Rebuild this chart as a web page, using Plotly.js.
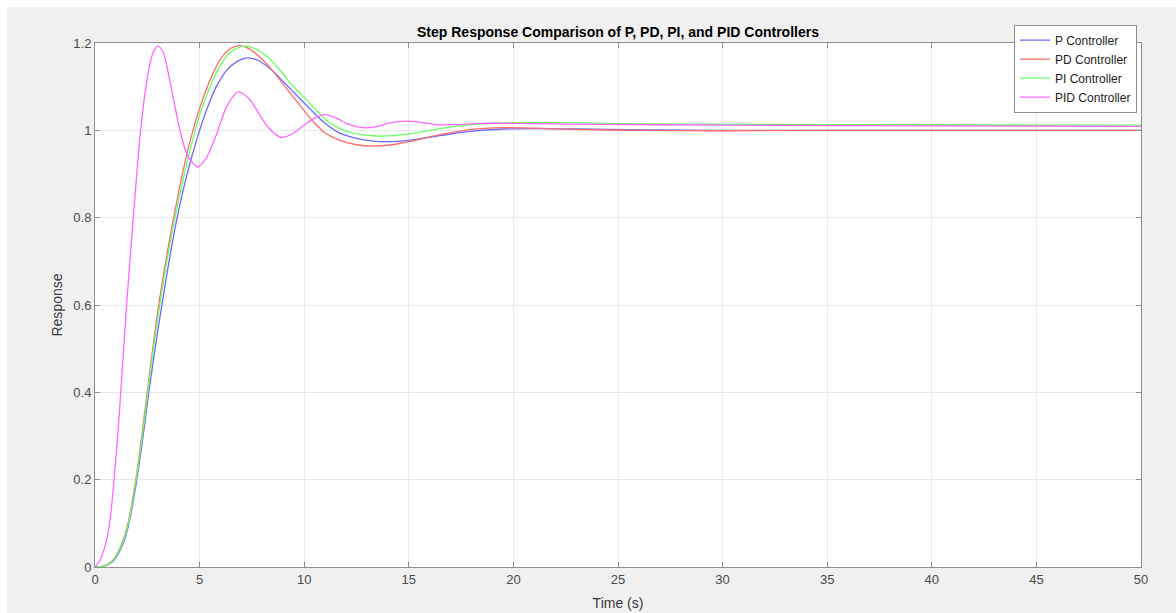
<!DOCTYPE html>
<html>
<head>
<meta charset="utf-8">
<script src="https://cdn.plot.ly/plotly-3.0.1.min.js"></script>
<style>
  html, body { margin: 0; padding: 0; background: #ffffff; }
  #chart { position: absolute; left: 7px; top: 7px; width: 1169px; height: 606px; }
</style>
</head>
<body>
<div id="chart"></div>
<script>
// ---- Data ----
const titleText = "Step Response Comparison of P, PD, PI, and PID Controllers";
const seriesNames = ["P Controller", "PD Controller", "PI Controller", "PID Controller"];

const tP = [0, 0.3, 0.6, 0.9, 1.35, 1.6, 1.95, 2.3, 2.6, 3.0, 3.4, 3.8, 4.2, 4.6, 5.0, 5.4, 5.8, 6.3, 6.8, 7.3, 7.8, 8.4, 9.0, 9.6, 10.3, 10.9, 11.6, 12.4, 13.2, 14.1, 15.0, 16.5, 18.0, 19.5, 21.0, 23.0, 26.0, 30.0, 35.0, 40.0, 45.0, 50.0];
const yP = [0, 0.001, 0.005, 0.015, 0.055, 0.095, 0.185, 0.3, 0.41, 0.54, 0.66, 0.77, 0.86, 0.935, 1.0, 1.055, 1.1, 1.138, 1.158, 1.166, 1.16, 1.14, 1.112, 1.082, 1.048, 1.02, 0.996, 0.983, 0.976, 0.974, 0.977, 0.988, 0.998, 1.003, 1.004, 1.003, 1.001, 1.0, 1.0, 1.0, 1.0, 1.0];

const tPD = [0, 0.3, 0.6, 0.9, 1.35, 1.6, 1.95, 2.3, 2.6, 3.0, 3.4, 3.8, 4.2, 4.6, 5.0, 5.5, 6.0, 6.5, 6.9, 7.4, 8.0, 8.6, 9.2, 9.8, 10.4, 11.0, 11.7, 12.5, 13.3, 14.2, 15.2, 16.5, 18.0, 19.5, 21.0, 23.0, 26.0, 30.0, 35.0, 40.0, 45.0, 50.0];
const yPD = [0, 0.001, 0.006, 0.018, 0.062, 0.105, 0.2, 0.325, 0.44, 0.585, 0.705, 0.81, 0.905, 0.985, 1.05, 1.115, 1.163, 1.188, 1.194, 1.186, 1.162, 1.13, 1.093, 1.057, 1.022, 0.994, 0.977, 0.967, 0.964, 0.967, 0.976, 0.99, 1.002, 1.006, 1.005, 1.002, 1.0, 0.999, 1.0, 1.0, 1.0, 1.0];

const tPI = [0, 0.3, 0.6, 0.9, 1.35, 1.6, 1.95, 2.3, 2.6, 3.0, 3.4, 3.8, 4.2, 4.6, 5.0, 5.5, 6.0, 6.5, 7.1, 7.6, 8.2, 8.8, 9.4, 10.0, 10.6, 11.2, 11.9, 12.7, 13.5, 14.3, 15.2, 16.5, 18.0, 19.5, 21.0, 23.0, 26.0, 30.0, 35.0, 40.0, 45.0, 50.0];
const yPI = [0, 0.001, 0.006, 0.017, 0.06, 0.1, 0.195, 0.315, 0.43, 0.57, 0.69, 0.795, 0.885, 0.965, 1.035, 1.1, 1.15, 1.18, 1.193, 1.188, 1.17, 1.14, 1.105, 1.075, 1.045, 1.018, 1.0, 0.99, 0.987, 0.988, 0.993, 1.004, 1.013, 1.017, 1.018, 1.017, 1.015, 1.014, 1.013, 1.013, 1.012, 1.012];

const tPID = [0, 0.24, 0.56, 0.75, 0.91, 1.1, 1.23, 1.51, 1.83, 2.18, 2.5, 2.75, 3.0, 3.25, 3.55, 3.8, 4.06, 4.4, 4.9, 5.3, 5.8, 6.3, 6.85, 7.35, 7.85, 8.35, 8.9, 9.4, 10.0, 10.5, 11.0, 11.6, 12.1, 12.8, 13.4, 14.1, 14.8, 15.5, 16.3, 17.2, 18.4, 20.0, 23.0, 30.0, 40.0, 50.0];
const yPID = [0, 0.016, 0.062, 0.12, 0.2, 0.31, 0.4, 0.6, 0.8, 1.0, 1.12, 1.175, 1.193, 1.18, 1.12, 1.06, 1.0, 0.945, 0.916, 0.935, 0.99, 1.055, 1.088, 1.073, 1.037, 1.003, 0.984, 0.991, 1.012, 1.028, 1.036, 1.027, 1.014, 1.006, 1.008, 1.017, 1.021, 1.019, 1.013, 1.013, 1.016, 1.016, 1.014, 1.012, 1.01, 1.009];

const xTicks = [0, 5, 10, 15, 20, 25, 30, 35, 40, 45, 50];
const yTicks = [0, 0.2, 0.4, 0.6, 0.8, 1, 1.2];

// ---- Styling ----
const colors = ["#6a6aff", "#ff6a6a", "#66ff66", "#ff66ff"];
const xs = [tP, tPD, tPI, tPID];
const ys = [yP, yPD, yPI, yPID];

const traces = seriesNames.map((n, i) => ({
  x: xs[i], y: ys[i], name: n, type: "scatter", mode: "lines",
  line: { color: colors[i], width: 1.3, shape: "spline", smoothing: 0.8 },
  hoverinfo: "skip"
}));

const FONT = "Liberation Sans, Arial, Helvetica, sans-serif";
const axisCommon = {
  showline: true, linecolor: "#8f8f8f", linewidth: 1, mirror: "ticks",
  ticks: "inside", ticklen: 5, tickcolor: "#8f8f8f", tickwidth: 1,
  showgrid: true, gridcolor: "#e8e8e8", gridwidth: 1,
  zeroline: false, tickfont: { family: FONT, size: 13, color: "#4a4a4a" },
  fixedrange: true
};

const layout = {
  width: 1169, height: 606,
  paper_bgcolor: "#f0f0f0", plot_bgcolor: "#ffffff",
  margin: { l: 88, r: 35, t: 36, b: 46, pad: 0 },
  showlegend: true,
  title: {
    text: "<b>" + titleText + "</b>",
    font: { family: FONT, size: 14, color: "#000000" },
    x: 0.5, xref: "paper", xanchor: "center",
    y: 0.958, yref: "container", yanchor: "middle"
  },
  xaxis: Object.assign({}, axisCommon, {
    range: [0, 50], tickvals: xTicks, ticktext: xTicks.map(String),
    title: { text: "Time (s)", font: { family: FONT, size: 14, color: "#3a3a3a" }, standoff: 12 }
  }),
  yaxis: Object.assign({}, axisCommon, {
    range: [0, 1.2], tickvals: yTicks, ticktext: yTicks.map(String),
    title: { text: "Response", font: { family: FONT, size: 14, color: "#3a3a3a" }, standoff: 7 }
  }),
  legend: {
    x: 0.9962, xanchor: "right", y: 1.035, yanchor: "top",
    bgcolor: "#ffffff", bordercolor: "#8f8f8f", borderwidth: 1,
    font: { family: FONT, size: 12, color: "#222222" },
    tracegroupgap: 0, itemwidth: 30
  }
};

Plotly.newPlot("chart", traces, layout, { displayModeBar: false, staticPlot: true });
</script>
</body>
</html>
